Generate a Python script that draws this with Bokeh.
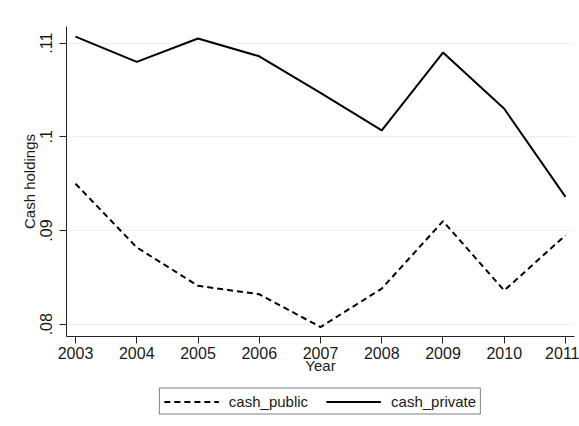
from bokeh.plotting import figure
from bokeh.layouts import column
from bokeh.models import (ColumnDataSource, FixedTicker, CustomJSTickFormatter,
                          Legend, LegendItem, Range1d)
from bokeh.embed import file_html
from bokeh.resources import INLINE

# Average cash holdings by year
years = [2003, 2004, 2005, 2006, 2007, 2008, 2009, 2010, 2011]
cash_public = [0.0950, 0.0882, 0.0841, 0.0832, 0.0797, 0.0838, 0.0910, 0.0836, 0.0895]
cash_private = [0.1107, 0.1080, 0.1105, 0.1086, 0.1047, 0.1007, 0.1090, 0.1030, 0.0936]
y_ticks = [0.08, 0.09, 0.10, 0.11]

FONT = "Liberation Sans"
TEXT = "#1a1a1a"
PUB_STYLE = dict(line_color="black", line_width=2, line_dash="6 4")
PRIV_STYLE = dict(line_color="black", line_width=2)

src = ColumnDataSource(dict(year=years, pub=cash_public, priv=cash_private))

p = figure(width=579, height=376, output_backend="svg", toolbar_location=None,
           x_range=Range1d(2002.853, 2011.147), y_range=Range1d(0.07869, 0.11178),
           min_border_left=66, min_border_right=5, min_border_top=26,
           min_border_bottom=38)
p.outline_line_color = None
p.background_fill_color = "white"
p.border_fill_color = "white"

p.line("year", "pub", source=src, **PUB_STYLE)
p.line("year", "priv", source=src, **PRIV_STYLE)

# x axis
p.xaxis.ticker = FixedTicker(ticks=years)
p.xaxis.axis_label = "Year"
p.xgrid.visible = False

# y axis with Stata-style ".11" labels, rotated
p.yaxis.ticker = FixedTicker(ticks=y_ticks)
p.yaxis.formatter = CustomJSTickFormatter(
    code="return tick.toFixed(2).replace(/^0/, '').replace(/0$/, '');")
p.yaxis.major_label_orientation = "vertical"
p.yaxis.axis_label = "Cash holdings"
p.ygrid.ticker = FixedTicker(ticks=y_ticks)
p.ygrid.grid_line_color = "#eaf1f1"
p.ygrid.grid_line_width = 1

for ax in (p.xaxis, p.yaxis):
    ax.axis_line_color = "#222222"
    ax.axis_line_width = 1
    ax.major_tick_line_color = "#222222"
    ax.major_tick_out = 7
    ax.major_tick_in = 0
    ax.minor_tick_line_color = None
    ax.major_label_text_font = FONT
    ax.major_label_text_font_size = "16px"
    ax.major_label_text_color = TEXT
    ax.axis_label_text_font = FONT
    ax.axis_label_text_font_size = "15px"
    ax.axis_label_text_font_style = "normal"
    ax.axis_label_text_color = TEXT

p.xaxis.major_label_standoff = 3
p.xaxis.axis_label_standoff = -5
p.yaxis.major_label_standoff = 7
p.yaxis.axis_label_standoff = 0

# legend strip under the chart; its ranges keep the swatch lines out of view
lg = figure(width=579, height=50, output_backend="svg", toolbar_location=None,
            x_range=Range1d(0, 1), y_range=Range1d(0, 1),
            x_axis_type=None, y_axis_type=None,
            min_border_left=66, min_border_right=5, min_border_top=0,
            min_border_bottom=0)
lg.outline_line_color = None
lg.xgrid.visible = False
lg.ygrid.visible = False
lg.border_fill_color = "white"
sw_pub = lg.line("year", "pub", source=src, **PUB_STYLE)
sw_priv = lg.line("year", "priv", source=src, **PRIV_STYLE)

legend = Legend(items=[LegendItem(label="cash_public", renderers=[sw_pub]),
                       LegendItem(label="cash_private", renderers=[sw_priv])],
                orientation="horizontal", location="center")
legend.label_text_font = FONT
legend.label_text_font_size = "15px"
legend.label_text_color = TEXT
legend.border_line_color = "black"
legend.border_line_width = 1
legend.padding = 4
legend.spacing = 18
legend.margin = 0
legend.glyph_width = 55
legend.glyph_height = 16
legend.label_height = 16
legend.label_standoff = 10
lg.add_layout(legend, "center")

open("out.html", "w").write(file_html(column(p, lg, spacing=0), INLINE))
